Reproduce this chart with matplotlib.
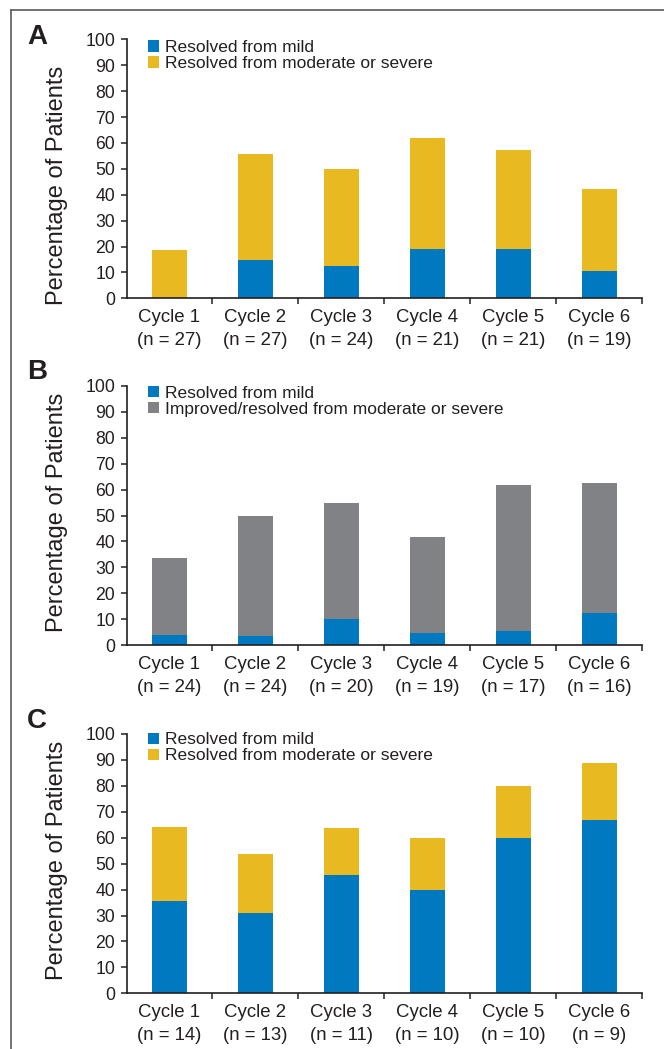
import matplotlib
matplotlib.use("Agg")
import matplotlib.pyplot as plt
from matplotlib.lines import Line2D
import numpy as np

plt.rcParams['font.family'] = ['Liberation Sans', 'DejaVu Sans']

BLUE = '#0079c1'
GOLD = '#e8b920'
GRAY = '#818285'
INK = '#231f20'

cycles = ['Cycle 1', 'Cycle 2', 'Cycle 3', 'Cycle 4', 'Cycle 5', 'Cycle 6']

# panel A
n_a = [27, 27, 24, 21, 21, 19]
a_mild = [0.0, 14.8, 12.5, 19.0, 19.0, 10.5]
a_modsev = [18.5, 40.8, 37.5, 42.9, 38.1, 31.6]

# panel B
n_b = [24, 24, 20, 19, 17, 16]
b_mild = [4.1, 3.7, 10.0, 4.9, 5.7, 12.3]
b_improved = [29.5, 46.1, 44.8, 36.8, 56.0, 50.2]

# panel C
n_c = [14, 13, 11, 10, 10, 9]
c_mild = [35.7, 30.8, 45.5, 40.0, 60.0, 66.7]
c_modsev = [28.6, 23.0, 18.1, 20.0, 20.0, 22.2]

W, H = 664, 1049
fig = plt.figure(figsize=(W / 100, H / 100), dpi=100)

# outer frame: top and left edges only
fig.add_artist(Line2D([10.5 / W, 1], [1 - 9.5 / H, 1 - 9.5 / H],
                      color='#5a5a5a', lw=1.2, transform=fig.transFigure))
fig.add_artist(Line2D([10.5 / W, 10.5 / W], [0, 1 - 9.5 / H],
                      color='#5a5a5a', lw=1.2, transform=fig.transFigure))


def draw_panel(top_px, bottom_px, letter, letter_top, n, lower, upper,
               upper_color, upper_label, ylab_y, leg_y):
    left_px, right_px = 126.5, 642.3
    ax = fig.add_axes([left_px / W, 1 - bottom_px / H,
                       (right_px - left_px) / W, (bottom_px - top_px) / H])
    x = np.arange(len(cycles))
    width = 0.41
    b1 = ax.bar(x, lower, width, color=BLUE, label='Resolved from mild')
    b2 = ax.bar(x, upper, width, bottom=lower, color=upper_color,
                label=upper_label)

    ax.set_xlim(-0.5, len(cycles) - 0.5)
    ax.set_ylim(0, 100)
    ax.set_yticks(range(0, 101, 10))
    ax.set_xticks(x)
    ax.set_xticklabels([f'{c}\n(n = {k})' for c, k in zip(cycles, n)],
                       fontsize=13.4, color=INK, linespacing=1.5)
    ax.set_xticks(list(x[:-1] + 0.5) + [len(cycles) - 0.5], minor=True)
    ax.tick_params(axis='x', which='major', length=0, pad=7.5)
    ax.tick_params(axis='x', which='minor', length=4.5, width=1.1,
                   direction='out', color=INK)
    ax.tick_params(axis='y', length=4.6, width=1.1, pad=3.5,
                   labelsize=12.7, labelcolor=INK, color=INK)

    for side in ('top', 'right'):
        ax.spines[side].set_visible(False)
    for side in ('left', 'bottom'):
        ax.spines[side].set_linewidth(1.2)
        ax.spines[side].set_color(INK)

    ax.set_ylabel('Percentage of Patients', fontsize=17, color=INK)
    ax.yaxis.set_label_coords(-0.1134, ylab_y)

    ax.legend(handles=[b1, b2], loc='upper left',
              bbox_to_anchor=(0.0417, leg_y), frameon=False,
              fontsize=12.5, handlelength=0.62, handleheight=0.62,
              handletextpad=0.33, labelspacing=0.05, borderpad=0,
              borderaxespad=0, labelcolor=INK)

    fig.text(27 / W, 1 - letter_top / H, letter, fontsize=20,
             fontweight='bold', color=INK, ha='left', va='top')
    return ax


draw_panel(39.3, 298.3, 'A', 24.0, n_a, a_mild, a_modsev, GOLD,
           'Resolved from moderate or severe', 0.4375, 0.9967)
draw_panel(385.7, 645.3, 'B', 359.0, n_b, b_mild, b_improved, GRAY,
           'Improved/resolved from moderate or severe', 0.512, 1.0)
draw_panel(734.0, 993.3, 'C', 708.0, n_c, c_mild, c_modsev, GOLD,
           'Resolved from moderate or severe', 0.514, 1.006)

fig.savefig('out.png', dpi=100)
